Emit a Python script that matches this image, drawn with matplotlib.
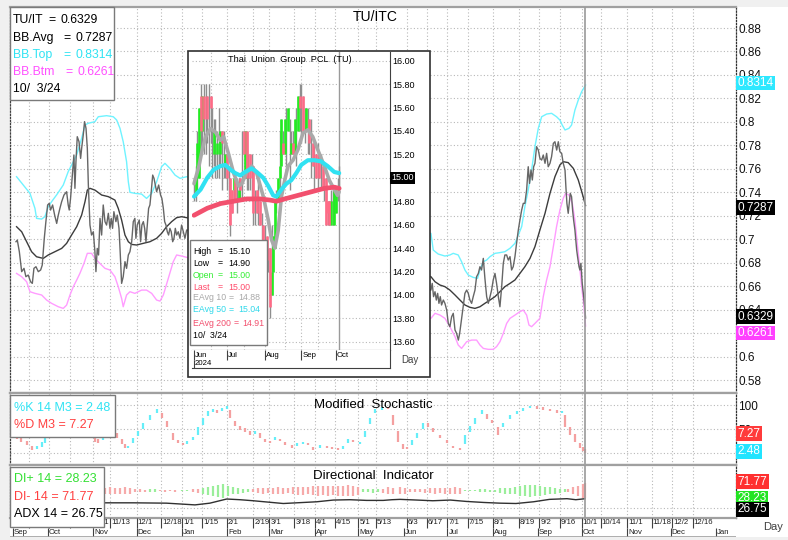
import numpy as np
import pandas as pd
import matplotlib
matplotlib.use("Agg")
import matplotlib.pyplot as plt
from matplotlib.patches import Rectangle

plt.rcParams['font.family'] = ['Liberation Sans', 'DejaVu Sans']

W, H = 788, 540
BASE = pd.Timestamp("2023-10-01")   # day 0 of the day offsets below
TODAY = "2024-10-03"

# ---------------- TU / ITC ratio with Bollinger bands (days from BASE) ----------------
ratio_days = [-21.7, -20.8, -19.4, -17.8, -16.2, -14.9, -13.3, -11.7, -10.5, -9.4,
              -8.0, -6.4, -4.8, -3.7, -3.0, -2.3, -1.2, 0.0, 1.1, 2.0,
              3.4, 4.8, 6.2, 7.3, 8.4, 9.6, 11.2, 13.0, 14.1, 14.8,
              15.7, 17.1, 18.0, 18.7, 19.4, 20.3, 21.5, 22.6, 23.3, 24.4,
              25.3, 26.3, 27.2, 27.9, 29.0, 30.1, 31.3, 32.4, 33.1, 34.0,
              34.9, 35.9, 37.0, 38.1, 39.3, 40.4, 41.6, 42.7, 43.6, 44.5,
              45.4, 46.8, 47.7, 48.9, 49.6, 50.7, 51.8, 53.0, 54.1, 55.3,
              56.4, 57.6, 58.7, 59.8, 60.5, 61.4, 62.8, 63.7, 64.6, 65.6,
              66.5, 67.4, 68.3, 69.2, 70.1, 71.0, 72.0, 72.9, 73.8, 74.7,
              76.1, 77.4, 78.3, 79.3, 80.2, 81.1, 82.0, 82.9, 83.8, 84.7,
              85.7, 86.6, 87.5, 88.4, 89.5, 90.7, 91.8, 93.0, 94.1, 95.3,
              262.7, 263.6, 264.5, 265.5, 266.4, 267.3, 268.2, 269.1, 270.0,
              271.2, 272.3, 273.5, 274.6, 275.7, 276.9, 278.0, 279.2, 280.3, 281.5,
              282.4, 283.3, 284.2, 285.1, 286.0, 287.2, 288.3, 289.4, 290.6, 291.7,
              292.9, 294.0, 295.2, 296.3, 297.4, 298.6, 299.7, 300.9, 302.0, 303.2,
              304.3, 305.4, 306.6, 307.7, 308.9, 310.0, 311.2, 312.3, 313.4, 314.6,
              315.7, 316.9, 318.0, 319.1, 320.3, 321.4, 322.6, 323.7, 324.9, 326.0,
              327.1, 328.3, 329.4, 330.3, 331.3, 332.2, 333.1, 334.0, 335.1, 336.3,
              337.4, 338.6, 339.7, 340.9, 342.0, 343.1, 344.3, 345.4, 346.6, 347.7,
              348.9, 350.0, 351.1, 352.3, 353.4, 354.6, 355.2, 355.9, 356.8, 357.5,
              358.2, 359.1, 359.8, 360.5, 361.4, 362.6, 363.2, 364.2, 364.8, 365.5,
              366.4, 367.4, 368.3, 368.7]
ratio_vals = [0.6979, 0.6993, 0.6894, 0.6724, 0.6752, 0.6681, 0.6695, 0.6638, 0.6624, 0.6752,
              0.6766, 0.6724, 0.6738, 0.6780, 0.6894, 0.7008, 0.7150, 0.7292, 0.7306, 0.7249,
              0.7292, 0.7206, 0.7135, 0.7206, 0.7263, 0.7320, 0.7377, 0.7405, 0.7292, 0.7249,
              0.7348, 0.7576, 0.7718, 0.7434, 0.7661, 0.7874, 0.7831, 0.7689, 0.7774, 0.7888,
              0.8002, 0.7945, 0.7774, 0.7462, 0.7121, 0.7036, 0.7064, 0.6894, 0.6724, 0.6922,
              0.6866, 0.7178, 0.7036, 0.7292, 0.7150, 0.7121, 0.7221, 0.7093, 0.7178, 0.7093,
              0.7235, 0.7150, 0.7206, 0.7093, 0.6922, 0.6624, 0.6681, 0.6809, 0.6752, 0.6866,
              0.6894, 0.6979, 0.7150, 0.7178, 0.7008, 0.7121, 0.7164, 0.6979, 0.7121, 0.7150,
              0.7093, 0.6979, 0.7121, 0.7263, 0.7292, 0.7405, 0.7547, 0.7519, 0.7462, 0.7405,
              0.7462, 0.7377, 0.7348, 0.7263, 0.7150, 0.7121, 0.7064, 0.7036, 0.7093, 0.7064,
              0.6979, 0.7008, 0.7093, 0.7036, 0.7064, 0.7008, 0.7121, 0.7064, 0.7008, 0.7079,
              0.6567, 0.6624, 0.6511, 0.6553, 0.6482, 0.6539, 0.6454, 0.6511, 0.6440,
              0.6482, 0.6454, 0.6397, 0.6283, 0.6255, 0.6340, 0.6369, 0.6227, 0.6198, 0.6141,
              0.6198, 0.6283, 0.6369, 0.6454, 0.6539, 0.6567, 0.6539, 0.6482, 0.6454, 0.6511,
              0.6567, 0.6681, 0.6709, 0.6766, 0.6738, 0.6837, 0.6667, 0.6511, 0.6454, 0.6511,
              0.6567, 0.6653, 0.6709, 0.6624, 0.6511, 0.6425, 0.6596, 0.6795, 0.6866, 0.6866,
              0.6823, 0.6852, 0.6738, 0.6766, 0.6852, 0.6965, 0.7079, 0.7164, 0.7249, 0.7306,
              0.7306, 0.7420, 0.7618, 0.7476, 0.7590, 0.7505, 0.7618, 0.7647, 0.7789, 0.7760,
              0.7689, 0.7675, 0.7718, 0.7647, 0.7732, 0.7618, 0.7647, 0.7704, 0.7817, 0.7831,
              0.7760, 0.7831, 0.7746, 0.7732, 0.7647, 0.7590, 0.7448, 0.7306, 0.7221, 0.7306,
              0.7391, 0.7363, 0.7249, 0.7164, 0.7079, 0.6908, 0.6852, 0.6766, 0.6738, 0.6795,
              0.6624, 0.6511, 0.6397, 0.6329]

bbtop_days = [-21.3, -16.7, -12.1, -8.7, -7.6, -4.1, -1.9, 0.4, 2.7, 6.1,
              10.7, 14.1, 17.6, 19.9, 23.3, 25.6, 27.8, 32.4, 34.7, 40.4,
              45.0, 47.3, 49.6, 51.8, 54.1, 55.3, 56.4, 59.8, 64.4, 67.8,
              71.3, 74.7, 78.1, 80.4, 83.8, 87.3, 90.7, 95.3,
              262.7, 264.3, 267.7, 272.3, 275.7, 278.0, 281.4, 283.7, 286.0, 288.3,
              291.7, 294.7, 296.3, 298.6, 300.9, 303.2, 306.6, 310.0, 313.4, 316.9,
              320.3, 322.6, 324.9, 327.1, 329.4, 331.7, 334.0, 336.3, 338.6, 342.0,
              345.4, 348.8, 351.1, 352.7, 354.6, 357.3, 359.1, 361.4, 363.7, 366.0, 368.7]
bbtop_vals = [0.7533, 0.7462, 0.7391, 0.7263, 0.7178, 0.7172, 0.7192, 0.7277, 0.7320, 0.7377,
              0.7462, 0.7576, 0.7661, 0.7718, 0.7860, 0.7973, 0.7988, 0.8002, 0.8044, 0.8053,
              0.8044, 0.8016, 0.7945, 0.7831, 0.7661, 0.7490, 0.7400, 0.7391, 0.7385, 0.7348,
              0.7391, 0.7490, 0.7618, 0.7647, 0.7604, 0.7547, 0.7519, 0.7533,
              0.7050, 0.6908, 0.6874, 0.6857, 0.6866, 0.6880, 0.6866, 0.6809, 0.6738, 0.6695,
              0.6675, 0.6667, 0.6738, 0.6809, 0.6823, 0.6852, 0.6880, 0.6886, 0.6894, 0.6923,
              0.6965, 0.7036, 0.7107, 0.7278, 0.7420, 0.7590, 0.7789, 0.7945, 0.8044, 0.8067,
              0.8073, 0.8044, 0.8016, 0.7973, 0.7931, 0.7945, 0.7973, 0.8101, 0.8186, 0.8257, 0.8314]

bbavg_days = [-21.3, -17.8, -14.4, -11.0, -7.6, -3.0, 0.4, 5.0, 9.6, 13.0,
              16.4, 19.9, 23.3, 25.6, 27.2, 29.0, 32.4, 37.0, 41.6, 46.1,
              48.4, 50.7, 53.0, 55.3, 57.6, 61.0, 65.5, 70.1, 74.7, 78.1,
              81.5, 85.0, 88.4, 91.8, 95.3,
              262.7, 265.5, 268.9, 272.3, 275.7, 279.2, 282.6, 286.0, 289.4, 292.9,
              296.3, 299.7, 303.2, 306.6, 310.0, 313.4, 316.9, 320.3, 323.7, 327.1,
              330.6, 334.0, 337.4, 340.9, 344.3, 347.7, 351.1, 353.4, 356.8, 360.3,
              363.7, 366.4, 368.7]
bbavg_vals = [0.7107, 0.7064, 0.6979, 0.6894, 0.6851, 0.6837, 0.6866, 0.6894, 0.6922, 0.6965,
              0.7036, 0.7107, 0.7206, 0.7320, 0.7419, 0.7434, 0.7419, 0.7377, 0.7363, 0.7334,
              0.7263, 0.7164, 0.7036, 0.6979, 0.6956, 0.6951, 0.6965, 0.6979, 0.7008, 0.7050,
              0.7107, 0.7150, 0.7184, 0.7192, 0.7184,
              0.6681, 0.6638, 0.6610, 0.6596, 0.6567, 0.6525, 0.6482, 0.6440, 0.6420, 0.6411,
              0.6425, 0.6454, 0.6482, 0.6511, 0.6553, 0.6596, 0.6624, 0.6653, 0.6709, 0.6766,
              0.6837, 0.6937, 0.7079, 0.7221, 0.7391, 0.7533, 0.7633, 0.7661, 0.7653, 0.7604,
              0.7505, 0.7391, 0.7287]

bbbtm_days = [-21.3, -17.8, -14.4, -12.1, -8.7, -4.1, -0.7, 2.7, 7.3, 10.7,
              13.0, 15.3, 17.6, 19.9, 22.1, 24.9, 27.2, 30.1, 32.4, 35.8,
              39.3, 42.7, 46.1, 48.4, 50.7, 51.8, 54.1, 56.4, 59.8, 64.4,
              67.8, 71.3, 74.7, 77.0, 79.3, 82.7, 86.1, 88.4, 91.8, 95.3,
              262.7, 265.5, 268.9, 272.3, 275.7, 279.2, 281.4, 283.7, 287.2, 290.6,
              294.0, 296.3, 298.6, 302.0, 305.4, 307.7, 310.0, 312.3, 314.6, 316.9,
              320.3, 323.7, 326.0, 328.3, 329.9, 331.7, 334.0, 337.4, 339.7, 342.0,
              344.3, 346.6, 348.8, 351.1, 353.4, 355.0, 357.3, 359.6, 361.4, 363.0,
              364.4, 366.0, 367.4, 368.7]
bbbtm_vals = [0.6709, 0.6681, 0.6638, 0.6553, 0.6539, 0.6525, 0.6482, 0.6454, 0.6425, 0.6411,
              0.6439, 0.6525, 0.6596, 0.6652, 0.6709, 0.6794, 0.6880, 0.6880, 0.6837, 0.6794,
              0.6752, 0.6738, 0.6681, 0.6596, 0.6496, 0.6425, 0.6525, 0.6553, 0.6539, 0.6567,
              0.6567, 0.6539, 0.6482, 0.6473, 0.6525, 0.6667, 0.6809, 0.6866, 0.6857, 0.6846,
              0.6326, 0.6369, 0.6354, 0.6326, 0.6255, 0.6170, 0.6099, 0.6070, 0.6127, 0.6141,
              0.6141, 0.6099, 0.6070, 0.6062, 0.6062, 0.6085, 0.6127, 0.6198, 0.6283, 0.6326,
              0.6354, 0.6383, 0.6397, 0.6354, 0.6269, 0.6255, 0.6283, 0.6326, 0.6511, 0.6653,
              0.6766, 0.6937, 0.7107, 0.7249, 0.7349, 0.7391, 0.7377, 0.7306, 0.7164, 0.6965,
              0.6795, 0.6596, 0.6454, 0.6261]

# ---------------- Modified stochastic ----------------
stoch_days = [-21.3, -18.0, -14.4, -11.0, -7.6, -4.1, -1.8, 2, 5, 8,
              12, 16, 20, 24, 27, 30, 32.4, 34.7, 38.1, 42.7,
              47.3, 50.7, 53.0, 55.3, 58.7, 62.1, 65.5, 70.1, 74.7, 78.1,
              81.5, 86.1, 89.5, 93.0, 95.3, 99.8, 103.2, 106.7, 110.1, 113.5,
              115.8, 119.2, 122.7, 125.0, 128.4, 131.8, 135.2, 138.7, 142.1, 145.5,
              149.0, 152.4, 155.8, 159.2, 162.6, 167.2, 170.6, 175.2, 178.6, 182.0,
              186.6, 191.2, 194.6, 199.2, 202.6, 206.0, 209.5, 214.0, 217.5, 220.9,
              224.3, 228.9, 233.4, 236.9, 240.3, 243.7, 246.0, 249.4, 252.9, 257.4,
              260.9, 264.3, 268.9, 273.4, 278.0, 282.5, 286.0, 289.4, 292.8, 297.4,
              300.8, 304.3, 308.8, 312.3, 316.8, 321.4, 326.0, 330.5, 335.1, 339.7,
              344.3, 348.8, 352.2, 354.5, 358.0, 361.4, 364.8, 367.1, 368.2]
stoch_k = [30, 24, 18, 8, 14, 22, 30, 45, 65, 80,
           85, 88, 92, 90, 70, 45, 25, 22, 35, 40,
           33, 20, 12, 14, 30, 45, 62, 78, 90, 75,
           55, 28, 22, 18, 23, 32, 52, 72, 86, 90,
           84, 93, 96, 75, 58, 50, 46, 40, 45, 32,
           24, 22, 32, 26, 18, 12, 19, 22, 18, 8,
           16, 12, 9, 7, 13, 27, 24, 22, 45, 72,
           90, 94, 93, 60, 25, 10, 9, 26, 40, 60,
           55, 46, 33, 22, 12, 7, 35, 55, 72, 88,
           72, 63, 40, 62, 78, 86, 92, 96, 94, 91,
           88, 85, 87, 55, 40, 25, 12, 5, 2.48]
stoch_d = [38, 30, 24, 14, 10, 15, 22, 35, 52, 72,
           82, 86, 89, 92, 82, 60, 35, 28, 28, 34,
           40, 28, 18, 12, 22, 36, 52, 70, 84, 82,
           65, 40, 26, 20, 20, 28, 40, 60, 78, 86,
           88, 90, 94, 88, 65, 55, 50, 44, 42, 40,
           28, 24, 28, 28, 21, 15, 17, 20, 20, 11,
           12, 14, 11, 9, 10, 22, 25, 20, 35, 62,
           84, 92, 94, 78, 45, 18, 10, 18, 32, 52,
           60, 50, 37, 26, 14, 9, 20, 45, 62, 82,
           80, 68, 52, 55, 72, 82, 90, 95, 96, 94,
           91, 88, 85, 78, 52, 38, 20, 10, 7.27]

# ---------------- Directional indicator ----------------
di_days = [39.3, 42.7, 46.1, 49.6, 53.0, 56.4, 59.8, 63.3, 66.7, 70.1,
           73.5, 77.0, 80.4, 83.8, 87.3, 91.8, 95.3, 99.8, 103.3, 106.7,
           110.1, 113.5, 117.0, 120.4, 123.8, 127.2, 130.7, 134.1, 137.5, 140.9,
           144.4, 147.8, 151.2, 154.7, 158.1, 161.5, 164.9, 168.4, 171.8, 175.2,
           178.6, 182.1, 185.5, 188.9, 192.4, 195.8, 199.2, 202.6, 206.1, 209.5,
           212.9, 216.3, 219.8, 223.2, 226.6, 230.0, 233.5, 236.9, 241.5, 244.9,
           248.4, 251.8, 255.2, 258.6, 262.1, 265.5, 268.9, 272.3, 275.8, 279.2,
           282.6, 286.0, 289.5, 292.9, 296.3, 299.8, 303.2, 306.6, 310.0, 313.5,
           316.9, 320.3, 323.8, 327.2, 330.6, 334.0, 337.5, 340.9, 344.3, 347.7,
           351.2, 354.6, 356.9, 360.3, 363.7, 366.7, 368.2]
di_plus = [41, 40, 41, 42, 40, 42, 45, 46, 47, 54,
           55, 48, 47, 48, 47, 52, 52, 45, 44, 58,
           62, 65, 68, 70, 64, 60, 58, 56, 55, 46,
           43, 42, 43, 42, 40, 41, 43, 40, 39, 38,
           40, 37, 36, 37, 35, 37, 36, 35, 34, 36,
           38, 54, 55, 56, 54, 44, 40, 41, 40, 42,
           45, 46, 45, 44, 43, 42, 43, 42, 41, 40,
           41, 52, 51, 52, 55, 54, 53, 53, 57, 58,
           59, 60, 64, 66, 67, 66, 64, 62, 60, 58,
           56, 54, 45, 40, 35, 30, 28.23]
di_minus = [59, 60, 59, 58, 60, 58, 55, 54, 53, 46,
            45, 52, 53, 52, 53, 48, 48, 55, 56, 42,
            38, 35, 32, 30, 36, 40, 42, 44, 45, 54,
            57, 58, 57, 58, 60, 59, 57, 60, 61, 62,
            60, 63, 64, 63, 65, 63, 64, 65, 66, 64,
            62, 46, 45, 44, 46, 56, 60, 59, 60, 58,
            55, 54, 55, 56, 57, 58, 57, 58, 59, 60,
            59, 48, 49, 48, 45, 46, 47, 47, 43, 42,
            41, 40, 36, 34, 33, 34, 36, 38, 40, 42,
            44, 46, 55, 60, 65, 70, 71.77]
adx_days = [39.3, 58.7, 81.5, 101.0, 111.2, 122.7, 131.8, 140.9, 161.5, 184.4,
            195.8, 207.2, 218.6, 230.0, 236.0, 241.5, 253.0, 264.0, 276.0, 287.0,
            299.0, 310.0, 321.0, 333.0, 344.0, 356.0, 362.0, 368.2]
adx_vals = [15, 15, 14, 9, 14, 26, 24, 21, 13, 18,
            23, 24, 22, 22, 24, 25, 23, 21, 23, 19,
            16, 14, 13, 18, 25, 27, 24, 26.75]

# ---------------- Inset: Thai Union Group PCL daily bars ----------------
tu_start, tu_end = "2024-06-03", "2024-10-03"
tu_high = [15.00, 15.10, 15.40, 15.60, 15.80, 15.70, 15.80, 15.80, 15.70, 15.80,
           15.70, 15.60, 15.50, 15.50, 15.40, 15.60, 15.40, 15.40, 15.40, 15.20,
           15.20, 15.10, 15.00, 14.90, 15.00, 15.00, 15.00, 15.00, 15.00, 15.40,
           15.40, 15.40, 15.40, 15.20, 15.20, 15.20, 15.10, 14.90, 14.90, 15.00,
           14.80, 14.70, 14.60, 14.60, 14.50, 14.40, 14.40, 14.60, 14.50, 14.80,
           14.90, 15.00, 15.40, 15.50, 15.40, 15.50, 15.60, 15.60, 15.50, 15.40,
           15.40, 15.50, 15.60, 15.70, 15.80, 15.80, 15.70, 15.60, 15.60, 15.60,
           15.50, 15.50, 15.30, 15.30, 15.20, 15.30, 15.20, 15.20, 15.10, 15.00,
           15.00, 14.80, 14.80, 14.90, 14.90, 14.90, 14.90, 15.00, 15.10]
tu_low = [14.80, 14.80, 14.90, 15.00, 15.20, 15.30, 15.20, 15.20, 15.30, 15.10,
          15.30, 15.00, 15.10, 15.00, 15.00, 15.00, 15.10, 14.90, 15.00, 15.00,
          14.90, 14.80, 14.50, 14.70, 14.80, 14.80, 14.70, 14.80, 14.80, 14.80,
          15.20, 15.00, 14.90, 14.90, 14.90, 14.80, 14.60, 14.60, 14.70, 14.60,
          14.60, 14.40, 14.30, 14.40, 14.20, 14.20, 13.80, 14.00, 14.20, 14.40,
          14.70, 14.80, 14.90, 15.10, 15.20, 15.20, 15.10, 15.40, 14.90, 15.20,
          15.20, 15.20, 15.10, 15.40, 15.40, 15.30, 15.40, 15.30, 15.40, 15.20,
          15.20, 15.00, 15.10, 14.90, 15.00, 14.90, 15.00, 14.90, 14.90, 14.80,
          14.60, 14.60, 14.60, 14.60, 14.60, 14.60, 14.70, 14.80, 14.90]
tu_open = [14.90, 14.85, 15.00, 15.00, 15.70, 15.40, 15.70, 15.50, 15.70, 15.60,
           15.70, 15.30, 15.20, 15.30, 15.20, 15.40, 15.20, 15.40, 15.20, 15.10,
           15.20, 15.00, 15.00, 14.90, 14.90, 15.00, 14.90, 14.80, 15.00, 15.10,
           15.40, 15.00, 15.40, 15.00, 15.20, 15.00, 15.10, 14.80, 14.90, 14.80,
           14.80, 14.60, 14.60, 14.50, 14.50, 14.30, 14.40, 14.00, 14.20, 14.40,
           14.80, 14.80, 15.00, 15.10, 15.30, 15.20, 15.40, 15.40, 15.40, 15.20,
           15.30, 15.20, 15.40, 15.40, 15.70, 15.60, 15.70, 15.50, 15.40, 15.40,
           15.50, 15.30, 15.30, 15.10, 15.20, 15.10, 15.20, 15.00, 15.10, 14.90,
           15.00, 14.80, 14.80, 14.60, 14.70, 14.60, 14.70, 14.90, 15.00]
tu_close = [14.90, 15.00, 15.30, 15.60, 15.40, 15.70, 15.50, 15.50, 15.50, 15.60,
            15.60, 15.30, 15.40, 15.30, 15.30, 15.40, 15.40, 15.30, 15.20, 15.20,
            15.00, 15.00, 14.60, 14.70, 15.00, 14.80, 14.90, 14.90, 14.90, 15.10,
            15.20, 15.40, 15.00, 15.00, 15.00, 15.00, 14.70, 14.80, 14.70, 14.80,
            14.60, 14.60, 14.30, 14.50, 14.30, 14.30, 13.90, 14.20, 14.50, 14.80,
            14.80, 15.00, 15.10, 15.50, 15.20, 15.50, 15.40, 15.60, 15.40, 15.30,
            15.20, 15.50, 15.40, 15.70, 15.60, 15.60, 15.40, 15.50, 15.60, 15.40,
            15.30, 15.30, 15.10, 15.10, 15.00, 15.10, 15.00, 15.00, 14.90, 14.90,
            14.60, 14.70, 14.60, 14.80, 14.70, 14.90, 14.90, 14.90, 15.00]
# exponential averages sampled at bar numbers (0 = first bar)
ema10_bar = [0, 3, 5, 7, 10, 13, 16, 18, 21, 24, 27, 29, 32, 35, 38, 42, 45, 47, 49, 51,
             53, 55, 57, 60, 63, 66, 69, 72, 75, 79, 82, 85, 87, 88]
ema10 = [14.95, 15.10, 15.24, 15.35, 15.42, 15.39, 15.32, 15.35, 15.20, 15.04,
         14.93, 14.95, 15.05, 15.10, 15.04, 14.84, 14.64, 14.47, 14.40, 14.55,
         14.84, 14.98, 15.10, 15.15, 15.24, 15.38, 15.41, 15.35, 15.24, 15.10,
         14.98, 14.90, 14.85, 14.88]
ema50_bar = [0, 4, 8, 12, 16, 19, 22, 25, 28, 31, 35, 38, 42, 45, 48, 50, 53, 56, 59, 62,
             65, 69, 73, 77, 81, 85, 88]
ema50 = [14.84, 14.90, 15.00, 15.07, 15.10, 15.11, 15.07, 15.04, 15.02, 15.05,
         15.08, 15.05, 15.00, 14.93, 14.85, 14.84, 14.90, 14.95, 14.98, 15.04,
         15.11, 15.15, 15.15, 15.14, 15.10, 15.05, 15.04]
ema200_bar = [0, 8, 16, 24, 32, 40, 46, 50, 55, 63, 71, 79, 85, 88]
ema200 = [14.68, 14.74, 14.78, 14.80, 14.82, 14.82, 14.81, 14.80, 14.82, 14.85,
          14.88, 14.91, 14.92, 14.91]

# ---------------- date ticks ----------------
week_ticks = ["2023-09-18", "2023-10-02", "2023-10-16", "2023-11-01", "2023-11-13",
              "2023-12-01", "2023-12-18", "2024-01-01", "2024-01-15", "2024-02-01",
              "2024-02-19", "2024-03-01", "2024-03-18", "2024-04-01", "2024-04-15",
              "2024-05-01", "2024-05-13", "2024-06-03", "2024-06-17", "2024-07-01",
              "2024-07-15", "2024-08-01", "2024-08-19", "2024-09-02", "2024-09-16",
              "2024-10-01", "2024-10-14", "2024-11-01", "2024-11-18", "2024-12-02",
              "2024-12-16"]
month_ticks = ["2023-10-01", "2023-11-01", "2023-12-01", "2024-01-01", "2024-02-01",
               "2024-03-01", "2024-04-01", "2024-05-01", "2024-06-01", "2024-07-01",
               "2024-08-01", "2024-09-01", "2024-10-01", "2024-11-01", "2024-12-01",
               "2025-01-01"]


def dnum(s):
    return (pd.Timestamp(s) - BASE).days


fig = plt.figure(figsize=(W / 100, H / 100), dpi=100, facecolor='white')


def add_ax(x0, y0, x1, y1):
    return fig.add_axes([x0 / W, 1 - y1 / H, (x1 - x0) / W, (y1 - y0) / H])


def rect(x0, y0, x1, y1, **kw):
    fig.add_artist(Rectangle((x0 / W, 1 - y1 / H), (x1 - x0) / W, (y1 - y0) / H,
                             transform=fig.transFigure, **kw))


def ftext(x, y, s, **kw):
    fig.text(x / W, 1 - y / H, s, **kw)


# outer gray surround
rect(0, 0, W, 7, fc='#f0f0f0', ec='none', zorder=-5)
rect(0, 0, 10, H, fc='#f0f0f0', ec='none', zorder=-5)
rect(0, 537, W, H, fc='#f0f0f0', ec='none', zorder=-5)

XMIN, XMAX = -25.8, 471.8
ax_main = add_ax(10, 7, 736, 393)
ax_st = add_ax(10, 393, 736, 465)
ax_di = add_ax(10, 465, 736, 518)
ax_dt = add_ax(10, 518, 736, 537)

GRID = dict(color='#b8b8b8', lw=0.8, ls=(0, (1, 2)))
week_x = [dnum(d) for d in week_ticks]
for ax in (ax_main, ax_st, ax_di):
    ax.set_xlim(XMIN, XMAX)
    ax.set_xticks([])
    for x in week_x:
        ax.axvline(x, zorder=0, **GRID)
    ax.axvline(dnum(TODAY), color='#9a9a9a', lw=1.2, zorder=4)
    for s in ('top', 'bottom'):
        ax.spines[s].set_color('#a0a0a0')
        ax.spines[s].set_linewidth(1.6)
    ax.spines['right'].set_color('#303030')
    ax.spines['right'].set_linewidth(0.9)
    ax.spines['right'].set_linestyle((0, (1, 1.5)))
    ax.spines['left'].set_color('#404040')
    ax.spines['left'].set_linewidth(0.9)
    ax.spines['left'].set_linestyle((0, (1, 1.5)))
    ax.yaxis.tick_right()
    ax.tick_params(axis='y', length=0, pad=1.5, labelsize=8.5, colors='#101010')

# ---- main panel ----
ax_main.set_ylim(0.5690, 0.8979)
main_ticks = np.round(np.arange(0.58, 0.8801, 0.02), 2)
ax_main.set_yticks(main_ticks)
ax_main.set_yticklabels([('%.2f' % v).rstrip('0') for v in main_ticks])
for v in main_ticks:
    ax_main.axhline(v, zorder=0, **GRID)
ax_main.plot(bbtop_days, bbtop_vals, color='#6ff3ff', lw=1.0, zorder=2)
ax_main.plot(bbbtm_days, bbbtm_vals, color='#ff9cff', lw=1.0, zorder=2)
ax_main.plot(bbavg_days, bbavg_vals, color='#3c3c3c', lw=1.0, zorder=2)
ax_main.plot(ratio_days, ratio_vals, color='#666666', lw=1.0, zorder=3)


def value_box(ax, v, text, fc, dy=0.0, fs=8.5):
    ax.annotate(text, xy=(1, v), xycoords=('axes fraction', 'data'),
                xytext=(1.2, dy), textcoords='offset points', ha='left', va='center',
                color='white', fontsize=fs, annotation_clip=False, zorder=20,
                bbox=dict(boxstyle='square,pad=0.12', fc=fc, ec='none'))


value_box(ax_main, bbtop_vals[-1], '0.8314', '#2ee8ff', dy=1.5)
value_box(ax_main, bbavg_vals[-1], '0.7287', 'black', dy=-1.5)
value_box(ax_main, ratio_vals[-1], '0.6329', 'black', dy=1.0)
value_box(ax_main, bbbtm_vals[-1], '0.6261', '#ff40ff', dy=-5.0)

# ---- stochastic panel ----
ax_st.set_ylim(-25, 125)
ax_st.set_yticks([100, 50])
ax_st.set_yticklabels(['100', '50'])
for v in (0, 50, 100):
    ax_st.axhline(v, zorder=0, **GRID)
st_lo = np.minimum(stoch_k, stoch_d)
st_hi = np.maximum(stoch_k, stoch_d)
st_col = ['#66eef8' if k >= d else '#f4a0a0' for k, d in zip(stoch_k, stoch_d)]
ax_st.vlines(stoch_days, st_lo - 1.5, st_hi + 1.5, colors=st_col, lw=1.6, zorder=2)
value_box(ax_st, stoch_d[-1], '7.27', '#ff3b3b', dy=11.5)
value_box(ax_st, stoch_k[-1], '2.48', '#22e4ff', dy=0.5)

# ---- DI panel ----
ax_di.set_ylim(-29.0, 124.6)
ax_di.set_yticks([])
ax_di.axhline(0, zorder=0, **GRID)
di_lo = np.minimum(di_plus, di_minus)
di_hi = np.maximum(di_plus, di_minus)
di_col = ['#9bee9b' if p > m else '#f6aaaa' for p, m in zip(di_plus, di_minus)]
ax_di.vlines(di_days, di_lo, di_hi, colors=di_col, lw=1.6, zorder=2)
ax_di.plot(adx_days, adx_vals, color='#303030', lw=1.0, zorder=3)
value_box(ax_di, di_minus[-1], '71.77', '#ff3030', dy=1.2)
value_box(ax_di, di_plus[-1], '28.23', '#22e422', dy=0)
value_box(ax_di, adx_vals[-1], '26.75', 'black', dy=-7.5)

# ---- date axis ----
ax_dt.set_xlim(XMIN, XMAX)
ax_dt.set_ylim(0, 1)
ax_dt.axis('off')
ax_dt.vlines(week_x, 0.5, 1.0, color='#404040', lw=0.8)
for d, x in zip(week_ticks, week_x):
    t = pd.Timestamp(d)
    ax_dt.text(x + 0.7, 0.74, '%d/%d' % (t.month, t.day), fontsize=5.6, ha='left',
               va='center', color='#202020')
month_x = [XMIN + 2] + [dnum(d) for d in month_ticks]
month_lab = ['Sep'] + [pd.Timestamp(d).strftime('%b') for d in month_ticks]
ax_dt.vlines(month_x, 0.0, 0.5, color='#404040', lw=0.8)
for x, lab in zip(month_x, month_lab):
    ax_dt.text(x + 0.7, 0.22, lab, fontsize=5.6, ha='left', va='center', color='#202020')
ax_dt.axhline(0.02, color='#a0a0a0', lw=1.2)
ftext(773, 527, 'Day', fontsize=8, ha='center', va='center', color='#404040')

# ---- titles ----
ftext(375, 17, 'TU/ITC', fontsize=10, ha='center', va='center')
ftext(373, 405, 'Modified  Stochastic', fontsize=9.5, ha='center', va='center')
ftext(373, 476, 'Directional  Indicator', fontsize=9.5, ha='center', va='center')


# ---- legends ----
def legend(x0, y0, x1, y1, rows, fs):
    rect(x0, y0, x1, y1, fc='white', ec='#7a7a7a', lw=1.0, zorder=10)
    for (parts, y, c) in rows:
        for (s, x) in parts:
            ftext(x, y, s, fontsize=fs, color=c, ha='left', va='center', zorder=11)


legend(10, 7, 114, 100, [([('TU/IT', 13), ('=', 48), ('0.6329', 60)], 20, 'black'),
                         ([('BB.Avg', 13), ('=', 63), ('0.7287', 75)], 38, 'black'),
                         ([('BB.Top', 13), ('=', 63), ('0.8314', 76)], 55, '#2fe3f3'),
                         ([('BB.Btm', 13), ('=', 65), ('0.6261', 77)], 72, '#ff50ff'),
                         ([('10/  3/24', 13)], 89, 'black')], 8.8)
legend(10, 395, 115, 437, [([('%K 14 M3 = 2.48', 14)], 408, '#2fe3f3'),
                           ([('%D M3 = 7.27', 14)], 425, '#ff4040')], 9)
legend(10, 467, 104, 527, [([('DI+ 14 = 28.23', 14)], 479, '#33e033'),
                           ([('DI- 14 = 71.77', 14)], 497, '#ff4040'),
                           ([('ADX 14 = 26.75', 14)], 514, 'black')], 9)

# ---- inset price chart ----
rect(188, 51, 430, 377, fc='white', ec='#303030', lw=1.2, zorder=4)
ax_in = add_ax(191.7, 52, 390, 350)
ax_in.set_zorder(5)
ax_ind = add_ax(191.7, 350, 390, 368)
ax_ind.set_zorder(5)
tu_dates = pd.bdate_range(tu_start, tu_end)
bars = np.arange(len(tu_dates))
IN_XMIN, IN_XMAX = -1.4, 118.8
ax_in.set_xlim(IN_XMIN, IN_XMAX)
ax_in.set_ylim(13.53, 16.074)
ax_in.set_xticks([])
ax_in.yaxis.tick_right()
in_ticks = np.round(np.arange(13.6, 16.001, 0.2), 2)
ax_in.set_yticks(in_ticks)
ax_in.set_yticklabels(['%.2f' % v for v in in_ticks])
ax_in.tick_params(axis='y', length=0, pad=1.5, labelsize=6.5)
for s in ('top', 'left'):
    ax_in.spines[s].set_visible(False)
ax_in.spines['right'].set_color('#404040')
ax_in.spines['bottom'].set_color('#404040')
for v in in_ticks:
    ax_in.axhline(v, zorder=0, **GRID)
in_week = ["2024-06-17", "2024-07-01", "2024-07-15", "2024-08-01", "2024-08-19",
           "2024-09-02", "2024-09-16"]
in_week_x = [int(np.searchsorted(tu_dates, pd.Timestamp(d))) for d in in_week]
for x in in_week_x:
    ax_in.axvline(x, zorder=0, **GRID)
hi_a, lo_a = np.array(tu_high), np.array(tu_low)
op_a, cl_a = np.array(tu_open), np.array(tu_close)
ax_in.vlines(bars, lo_a, hi_a, color='#8e8e8e', lw=1.0, zorder=2)
up = cl_a > op_a
dn = cl_a < op_a
ax_in.vlines(bars[up], op_a[up], cl_a[up], color='#22ee22', lw=1.9, zorder=2)
ax_in.vlines(bars[dn], cl_a[dn], op_a[dn], color='#ff6a86', lw=1.9, zorder=2)
ax_in.plot(ema10_bar, ema10, color='#a9a9a9', lw=2.6, zorder=3, solid_capstyle='round')
ax_in.plot(ema200_bar, ema200, color='#f2506e', lw=3.4, zorder=3, solid_capstyle='round')
ax_in.plot(ema50_bar, ema50, color='#30e2f2', lw=3.0, zorder=4, solid_capstyle='round')
ax_in.axvline(len(tu_dates) - 1, color='#9a9a9a', lw=1.0, zorder=1)
ax_in.annotate('15.00', xy=(1, tu_close[-1]), xycoords=('axes fraction', 'data'),
               xytext=(1.0, 0), textcoords='offset points', ha='left', va='center',
               color='white', fontsize=6.5, annotation_clip=False,
               bbox=dict(boxstyle='square,pad=0.15', fc='black', ec='none'))

ax_ind.set_xlim(IN_XMIN, IN_XMAX)
ax_ind.set_ylim(0, 1)
ax_ind.set_xticks([])
ax_ind.set_yticks([])
for s in ('top', 'left'):
    ax_ind.spines[s].set_visible(False)
ax_ind.spines['right'].set_color('#404040')
ax_ind.spines['bottom'].set_color('#404040')
in_months = ["2024-06-03", "2024-07-01", "2024-08-01", "2024-09-02", "2024-10-01"]
for d in in_months:
    x = int(np.searchsorted(tu_dates, pd.Timestamp(d)))
    ax_ind.vlines(x, 0.45, 1.0, color='#404040', lw=0.8)
    ax_ind.text(x + 0.6, 0.72, pd.Timestamp(d).strftime('%b'), fontsize=5.6,
                ha='left', va='center')
ax_ind.vlines(0, 0.0, 0.45, color='#404040', lw=0.8)
ax_ind.text(0.6, 0.25, '2024', fontsize=5.6, ha='left', va='center')
ftext(410, 360, 'Day', fontsize=7, ha='center', va='center', color='#404040', zorder=12)
ftext(290, 59, 'Thai  Union  Group  PCL  (TU)', fontsize=6.6, ha='center', va='center',
      zorder=12)
legend(190, 240, 267, 345, [([('High', 193), ('=', 218), ('15.10', 228)], 251, 'black'),
                            ([('Low', 193), ('=', 218), ('14.90', 228)], 263, 'black'),
                            ([('Open', 193), ('=', 218), ('15.00', 228)], 275, '#33ee33'),
                            ([('Last', 193), ('=', 218), ('15.00', 228)], 287, '#ff4a6a'),
                            ([('EAvg 10', 193), ('=', 229), ('14.88', 238)], 298, '#a9a9a9'),
                            ([('EAvg 50', 193), ('=', 229), ('15.04', 238)], 310, '#2fd8ea'),
                            ([('EAvg 200', 193), ('=', 234), ('14.91', 242)], 323, '#f2506e'),
                            ([('10/  3/24', 193)], 335, 'black')], 6.3)

fig.savefig('out.png', dpi=100, facecolor=fig.get_facecolor())
